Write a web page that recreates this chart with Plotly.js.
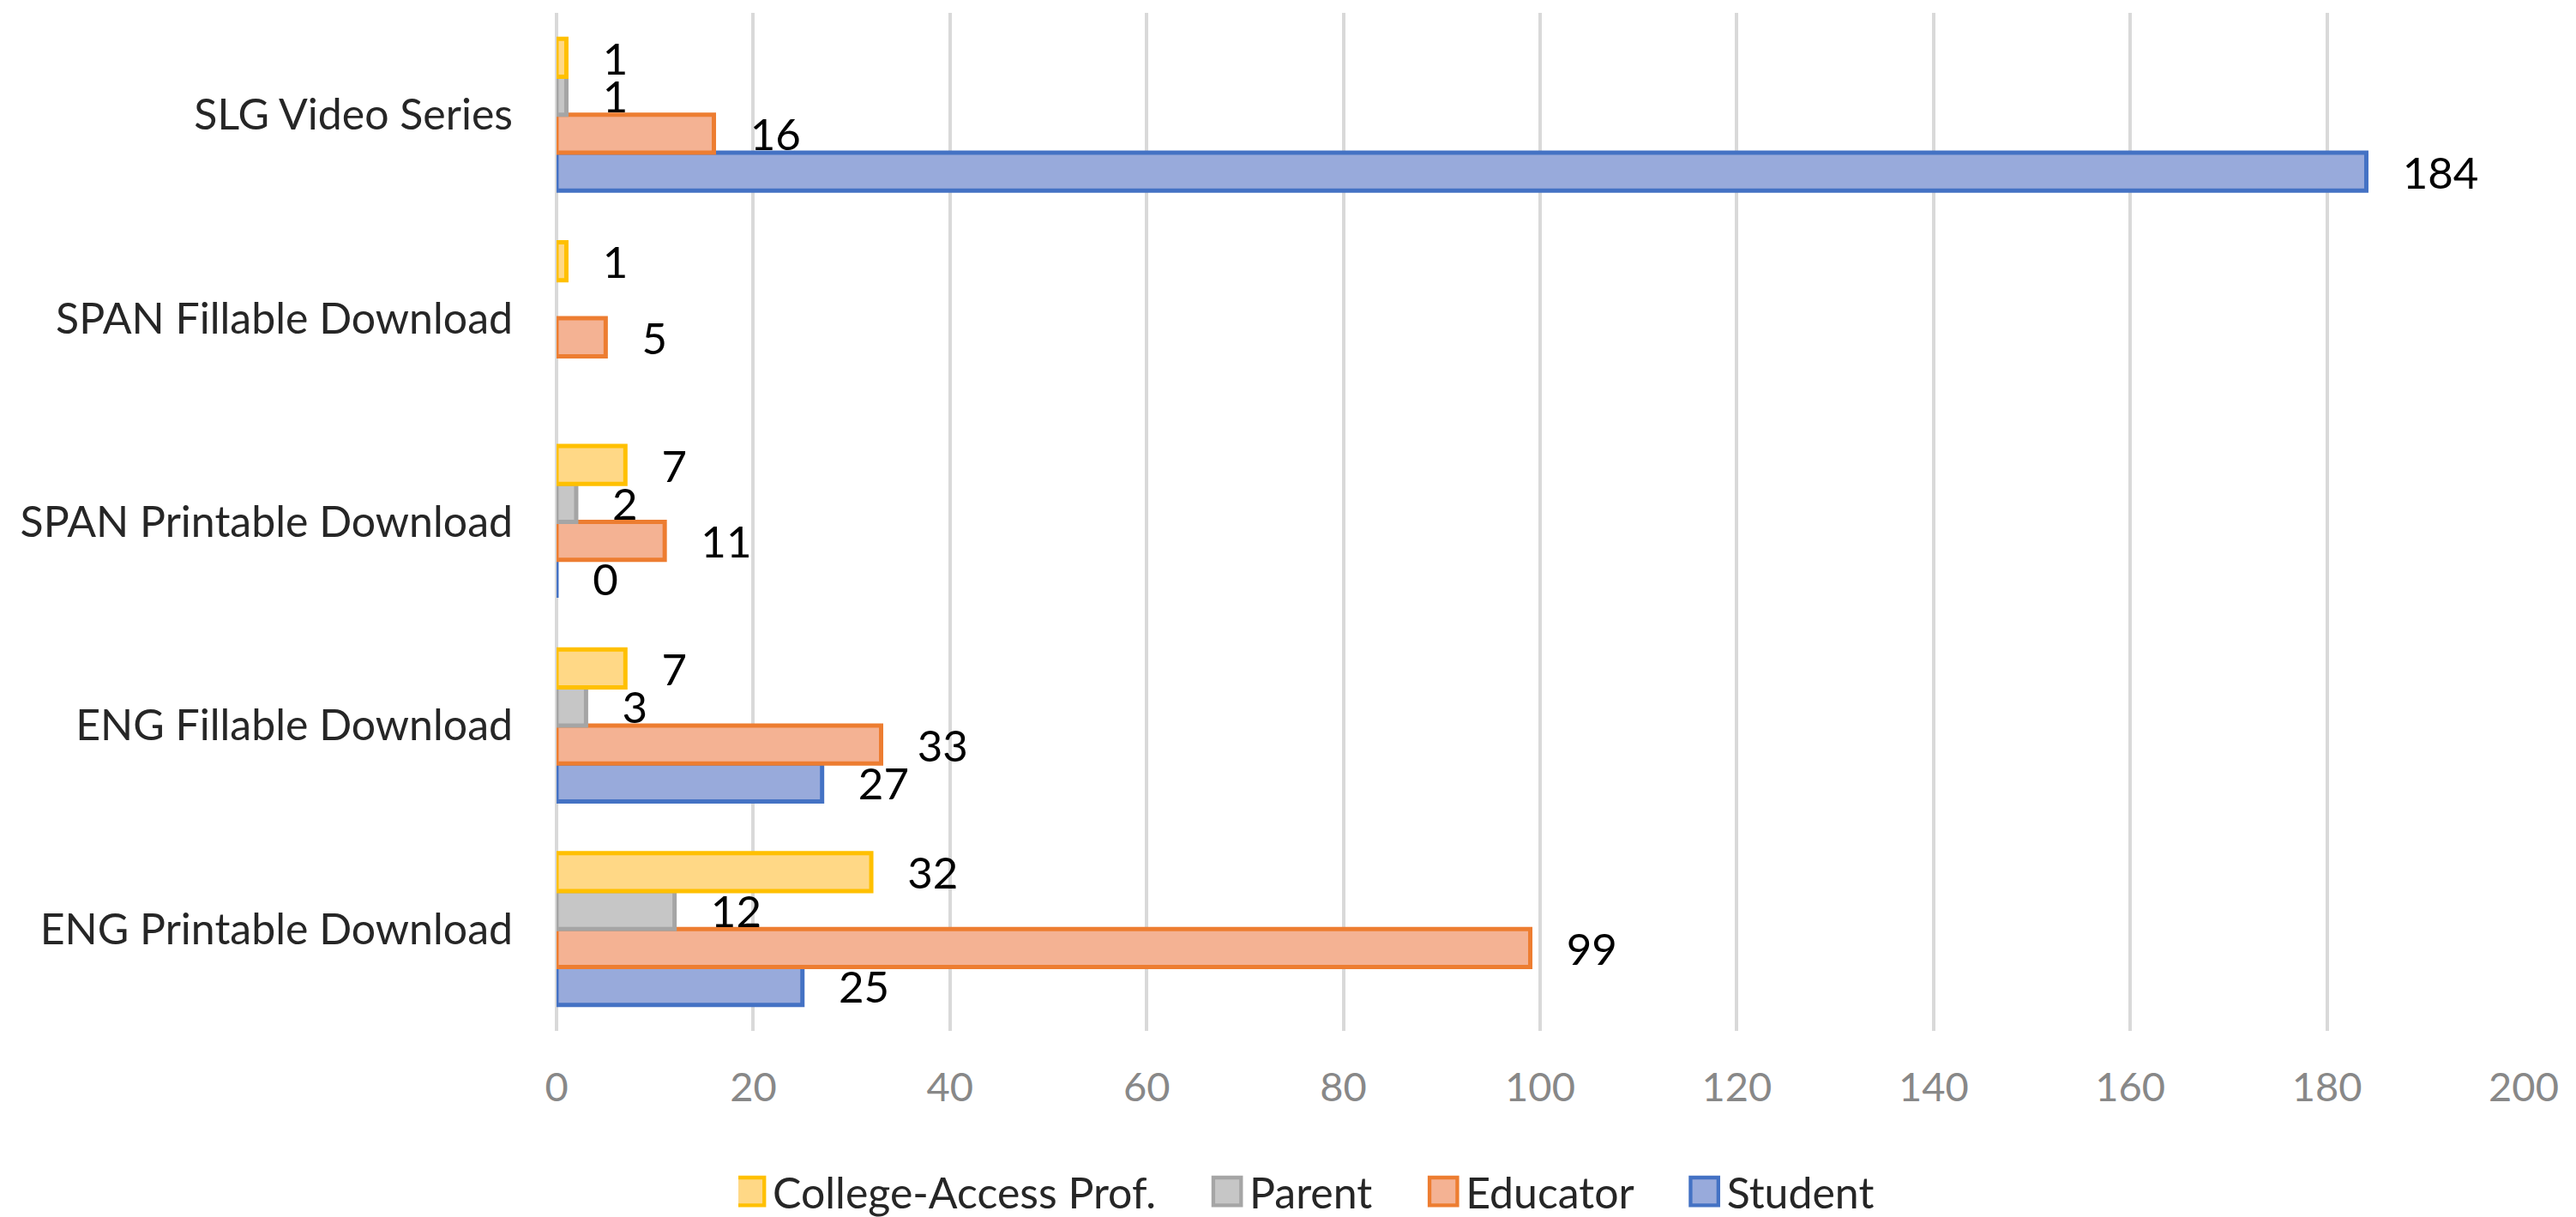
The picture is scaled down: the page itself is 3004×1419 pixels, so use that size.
<!DOCTYPE html>
<html>
<head>
<meta charset="utf-8">
<script src="https://cdn.plot.ly/plotly-3.0.1.min.js"></script>
<style>html,body{margin:0;padding:0;background:#fff;}#chart{width:3004px;height:1419px;}</style>
</head>
<body>
<div id="chart"></div>
<script>
// Categories, bottom to top as drawn on the axis
const categories = ["ENG Printable Download", "ENG Fillable Download", "SPAN Printable Download", "SPAN Fillable Download", "SLG Video Series"];
const student   = [25, 27, 0, null, 184];
const educator  = [99, 33, 11, 5, 16];
const parent    = [12, 3, 2, null, 1];
const collegeAccess = [32, 7, 7, 1, 1];
const xTicks = [0, 20, 40, 60, 80, 100, 120, 140, 160, 180, 200];

const FONT = 'Lato, "Liberation Sans", sans-serif';
const PAD = '\u00a0\u00a0\u00a0';
const GAP = '\u00a0\u00a0\u00a0\u00a0\u00a0';

function series(name, values, fill, line, gap) {
  return {
    type: 'bar', orientation: 'h', name: name + gap,
    y: categories, x: values,
    marker: {color: fill, line: {color: line, width: 5}},
    text: values.map(v => v === null ? '' : PAD + v),
    textposition: 'outside', cliponaxis: false, constraintext: 'none',
    textfont: {family: FONT, size: 51, color: '#000000'},
    hoverinfo: 'x+y'
  };
}

const data = [
  series('Student', student, '#98aadb', '#4472c4', ''),
  series('Educator', educator, '#f4b293', '#ed7d31', GAP),
  series('Parent', parent, '#c6c6c6', '#a5a5a5', GAP),
  series('College-Access Prof.', collegeAccess, '#ffd886', '#ffc000', GAP)
];

const layout = {
  width: 3004, height: 1419,
  paper_bgcolor: '#ffffff', plot_bgcolor: '#ffffff',
  margin: {l: 649, r: 61, t: 15, b: 217, autoexpand: false},
  barmode: 'group', bargap: 0.254, bargroupgap: 0,
  font: {family: FONT, color: '#262626'},
  xaxis: {
    range: [0, 200], tickvals: xTicks, ticktext: xTicks.map(String),
    showgrid: true, gridcolor: '#d9d9d9', gridwidth: 4,
    zeroline: true, zerolinecolor: '#d9d9d9', zerolinewidth: 4,
    showline: false, ticks: '', ticklabelstandoff: 34, tickangle: 0,
    tickfont: {family: FONT, size: 47, color: '#888888'}
  },
  yaxis: {
    type: 'category', categoryorder: 'array', categoryarray: categories,
    showgrid: false, zeroline: false, showline: false, ticks: '',
    ticklabelstandoff: 50,
    tickfont: {family: FONT, size: 50, color: '#262626'}
  },
  showlegend: true,
  legend: {
    orientation: 'h', traceorder: 'reversed',
    xref: 'container', yref: 'container',
    x: 0.508, xanchor: 'center', y: 0.021, yanchor: 'middle',
    font: {family: FONT, size: 50, color: '#262626'},
    itemclick: false, itemdoubleclick: false
  }
};

Plotly.newPlot('chart', data, layout, {displayModeBar: false, staticPlot: true}).then(function(gd){
  document.querySelectorAll('.legendpoints path').forEach(function(p){
    const t = p.getAttribute('transform') || '';
    p.setAttribute('transform', t + ' translate(-6,0) scale(2.7)');
    p.style.strokeWidth = '1.6px';
  });
});
</script>
</body>
</html>
